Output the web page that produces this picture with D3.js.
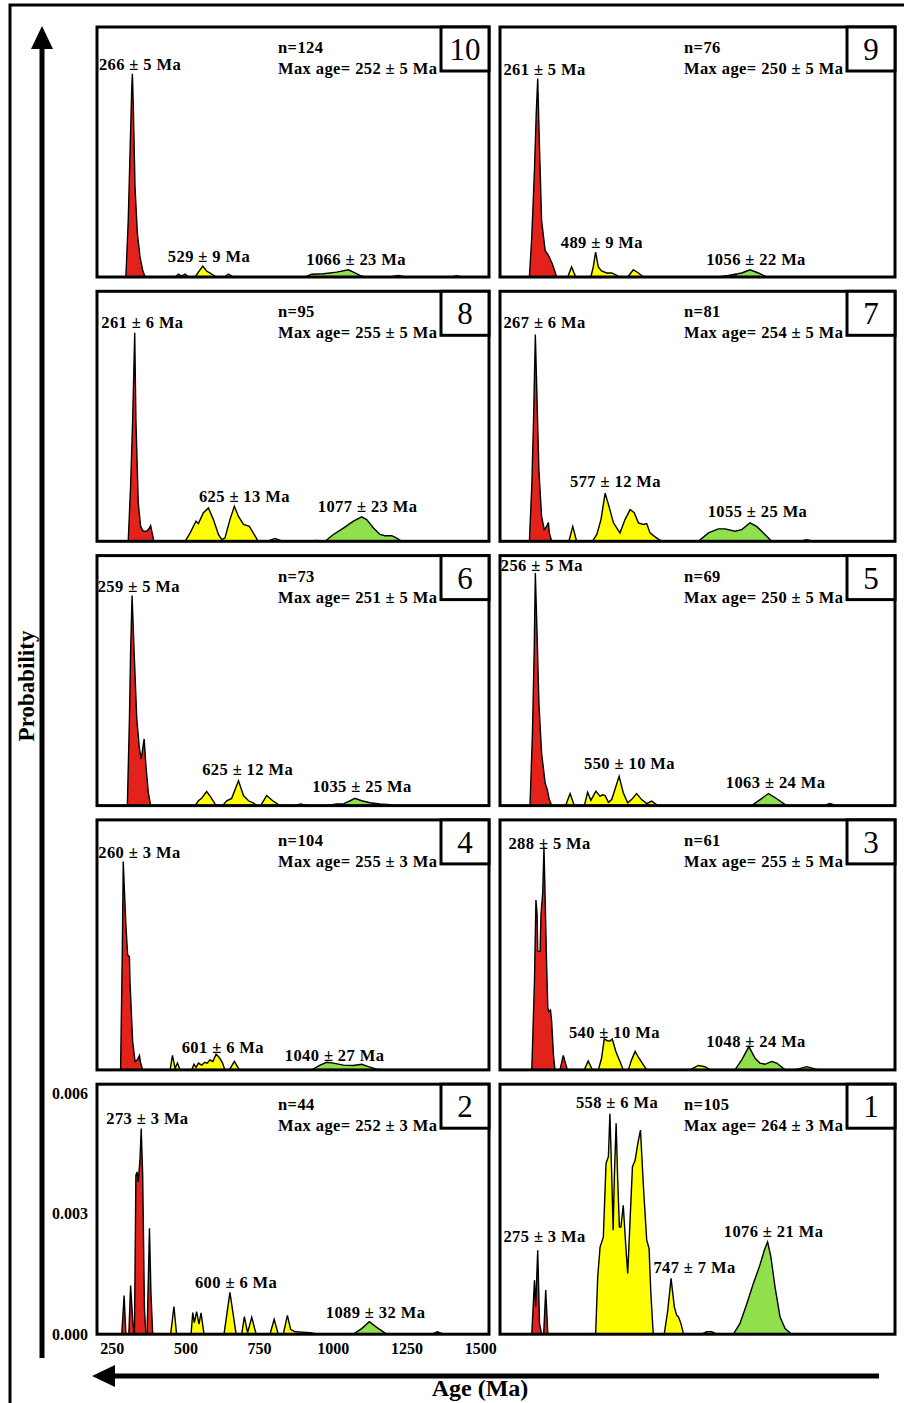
<!DOCTYPE html>
<html>
<head>
<meta charset="utf-8">
<script src="https://cdn.jsdelivr.net/npm/d3@7"></script>
<style>
  html, body { margin: 0; padding: 0; background: #fff; }
  svg { display: block; }
  text { font-family: "Liberation Serif", "Times New Roman", serif; }
</style>
</head>
<body>
<div id="chart"></div>
<script>
// panels in reading order (row by row, left then right)
const panelIds = [10, 9, 8, 7, 6, 5, 4, 3, 2, 1];
const sampleN = [124, 76, 95, 81, 73, 69, 104, 61, 44, 105];
const maxAges = ["252 ± 5", "250 ± 5", "255 ± 5", "254 ± 5", "251 ± 5", "250 ± 5", "255 ± 3", "255 ± 5", "252 ± 3", "264 ± 3"];

const ageTicks = [250, 500, 750, 1000, 1250, 1500];
const probTicks = [0, 0.003, 0.006];

// age populations: g1 Permian, g2 Neoproterozoic, g3 Mesoproterozoic, g4 minor/older
const groups = ["g1", "g2", "g3", "g4"];

// probability density curves: [group, [[age (Ma), probability], ...]]
const curve10 = [
  ["g1", [[298,0],[306,0.00141],[312,0.00307],[318,0.00473],[320,0.00506],[323,0.00432],[329,0.00224],[337,0.00108],[346,0.0005],[355,0.00017],[363,0]]],
  ["g2", [[465,0],[476,0.00007],[487,0.00002],[499,0.00007],[510,0]]],
  ["g2", [[533,0],[544,0.00012],[559,0.00027],[572,0.00015],[589,0.00007],[606,0]]],
  ["g2", [[632,0],[646,0.00007],[663,0]]],
  ["g3", [[906,0],[928,0.00007],[968,0.00008],[1013,0.00012],[1053,0.00018],[1070,0.00012],[1092,0.00004],[1109,0]]],
  ["g4", [[1194,0],[1222,0.00004],[1245,0]]],
  ["g4", [[1403,0],[1420,0.00003],[1437,0]]]
];
const curve9 = [
  ["g1", [[299,0],[307,0.001],[316,0.00266],[322,0.00407],[327,0.00494],[332,0.00349],[340,0.00141],[352,0.00066],[363,0.00054],[376,0.00033],[391,0]]],
  ["g2", [[428,0],[441,0.00025],[455,0]]],
  ["g2", [[506,0],[514,0.00025],[522,0.00062],[531,0.00025],[542,0.00015],[559,0.0001],[576,0.0001],[593,0.00004],[601,0]]],
  ["g2", [[630,0],[649,0.00018],[666,0.0001],[683,0]]],
  ["g4", [[935,0],[969,0.00004],[1000,0.00008]]],
  ["g3", [[1000,0.00008],[1014,0.0001],[1042,0.00018],[1070,0.0001],[1098,0]]]
];
const curve8 = [
  ["g1", [[306,0],[314,0.00137],[321,0.00303],[328,0.00519],[332,0.00303],[340,0.00095],[348,0.00037],[357,0.00025],[369,0.00025],[378,0.00033],[382,0.00039],[387,0.00021],[393,0]]],
  ["g2", [[499,0],[516,0.00021],[536,0.0005],[544,0.00044],[561,0.00071],[578,0.00083],[595,0.00054],[612,0.00017],[623,0.00004],[634,0.00008],[651,0.00054],[666,0.00087],[680,0.00062],[697,0.00042],[717,0.00037],[730,0.00021],[747,0]]],
  ["g2", [[776,0],[804,0.00007],[832,0]]],
  ["g4", [[917,0],[945,0.00002],[974,0]]],
  ["g3", [[974,0],[1002,0.00017],[1036,0.00033],[1070,0.0005],[1098,0.00061],[1115,0.00054],[1138,0.00033],[1160,0.00017],[1177,0.00014],[1200,0.00014],[1217,0.00008],[1234,0]]]
];
const curve7 = [
  ["g1", [[299,0],[307,0.00137],[313,0.00303],[319,0.00515],[325,0.00344],[331,0.00178],[340,0.00062],[349,0.00029],[357,0.00037],[363,0.00047],[366,0.00021],[374,0]]],
  ["g2", [[432,0],[445,0.00037],[458,0]]],
  ["g2", [[511,0],[526,0.00017],[540,0.00054],[554,0.0012],[567,0.00087],[582,0.00046],[604,0.00021],[621,0.00054],[638,0.00079],[652,0.00071],[666,0.00046],[683,0.00042],[694,0.00044],[705,0.00021],[722,0.00011],[744,0]]],
  ["g3", [[868,0],[902,0.00021],[935,0.00031],[958,0.00031],[991,0.00025],[1014,0.00029],[1042,0.00046],[1064,0.00037],[1092,0.00017],[1115,0]]],
  ["g4", [[1210,0],[1233,0.00004],[1255,0]]]
];
const curve6 = [
  ["g1", [[303,0],[310,0.00216],[314,0.00382],[319,0.00523],[326,0.00382],[335,0.00216],[344,0.00141],[350,0.00116],[355,0.00141],[360,0.00166],[366,0.001],[374,0.00033],[382,0]]],
  ["g2", [[533,0],[544,0.00012],[555,0.00018],[572,0.00035],[586,0.00021],[604,0]]],
  ["g2", [[626,0],[640,0.00012],[657,0.00018],[680,0.00062],[697,0.00025],[714,0.00012],[730,0.00007],[742,0]]],
  ["g2", [[755,0],[776,0.00025],[796,0.00012],[821,0]]],
  ["g4", [[872,0],[891,0.00004],[917,0]]],
  ["g4", [[979,0],[1013,0.00004],[1036,0.00004]]],
  ["g3", [[1036,0.00004],[1053,0.0001],[1075,0.00018],[1098,0.00012],[1126,0.00007],[1160,0.00004],[1194,0.00002],[1206,0]]]
];
const curve5 = [
  ["g1", [[301,0],[309,0.00173],[315,0.0038],[319,0.00579],[325,0.00422],[331,0.00256],[340,0.00131],[352,0.00056],[359,0.0004],[366,0.00015],[374,0]]],
  ["g2", [[421,0],[436,0.0003],[450,0]]],
  ["g2", [[484,0],[495,0.00033],[506,0.00013],[523,0.00036],[537,0.00023],[545,0.00027],[554,0.00025],[565,0.00008],[576,0.00015],[587,0.0004],[601,0.00073],[615,0.00032],[630,0.00007],[643,0.00015],[660,0.0003],[677,0.00015],[694,0.00005],[711,0.00011],[722,0.00005],[733,0]]],
  ["g3", [[1047,0],[1076,0.00015],[1104,0.0003],[1132,0.00017],[1165,0]]],
  ["g4", [[1289,0],[1311,0.00005],[1334,0]]]
];
const curve4 = [
  ["g1", [[280,0],[286,0.00303],[289,0.00519],[293,0.00448],[298,0.00361],[304,0.00286],[310,0.00282],[312,0.0022],[318,0.0012],[321,0.00071],[329,0.00021],[337,0.00025],[344,0.00036],[348,0.00017],[355,0]]],
  ["g2", [[448,0],[456,0.00036],[465,0.00004],[473,0.00017],[482,0]]],
  ["g2", [[521,0],[529,0.00014],[536,0.00006],[544,0.00017],[555,0.00012],[566,0.00019],[574,0.00017],[583,0.00025],[593,0.00021],[604,0.00039],[615,0.00031],[626,0.00017],[634,0]]],
  ["g2", [[649,0],[666,0.00021],[683,0]]],
  ["g3", [[928,0],[957,0.00012],[979,0.00019],[1002,0.00017],[1036,0.00012],[1070,0.00011],[1098,0.00014],[1121,0.00008],[1149,0.00002],[1177,0]]]
];
const curve3 = [
  ["g1", [[307,0],[316,0.0022],[321,0.00423],[325,0.00386],[327,0.00295],[335,0.00295],[338,0.00386],[344,0.00444],[348,0.00556],[352,0.00427],[357,0.00261],[361,0.00154],[365,0.00145],[370,0.00149],[374,0.0012],[380,0.00037],[385,0]]],
  ["g1", [[402,0],[413,0.00036],[427,0]]],
  ["g2", [[484,0],[497,0.00022],[511,0]]],
  ["g2", [[531,0],[542,0.00029],[551,0.00077],[563,0.00072],[570,0.00072],[578,0.00077],[590,0.00046],[604,0.00021],[615,0]]],
  ["g2", [[632,0],[643,0.00025],[655,0.00046],[668,0.00029],[694,0]]],
  ["g2", [[840,0],[868,0.00011],[890,0.00008],[907,0]]],
  ["g3", [[991,0],[1014,0.00025],[1038,0.00058],[1059,0.00029],[1075,0.00017],[1092,0.00014],[1115,0.00021],[1132,0.00017],[1160,0]]],
  ["g3", [[1193,0],[1233,0.00008],[1272,0]]]
];
const curve2 = [
  ["g1", [[284,0],[292,0.00096],[298,0]]],
  ["g1", [[308,0],[314,0.00121],[321,0.00037],[326,0]]],
  ["g1", [[327,0],[332,0.00396],[336,0.00404],[340,0.00379],[346,0.00437],[350,0.00512],[355,0.00396],[361,0.00062],[366,0]]],
  ["g1", [[370,0],[378,0.00264],[383,0.00104],[389,0]]],
  ["g2", [[450,0],[461,0.00069],[470,0]]],
  ["g2", [[519,0],[525,0.00054],[530,0.00029],[538,0.00056],[546,0.00025],[553,0.00053],[563,0]]],
  ["g2", [[631,0],[651,0.00104],[672,0]]],
  ["g2", [[691,0],[700,0.00044],[711,0.00004],[725,0.00042],[740,0]]],
  ["g2", [[787,0],[801,0.00037],[815,0]]],
  ["g2", [[832,0],[846,0.00047],[857,0.00012],[872,0.00006],[923,0.00004],[951,0]]],
  ["g3", [[1070,0],[1098,0.00014],[1124,0.00031],[1149,0.00017],[1183,0]]],
  ["g3", [[1336,0],[1355,0.00006],[1375,0]]]
];
const curve1 = [
  ["g1", [[307,0],[316,0.00134],[320,0.00068],[327,0.00209],[333,0.00027],[340,0]]],
  ["g1", [[347,0],[354,0.0011],[361,0]]],
  ["g2", [[522,0],[529,0.00143],[537,0.00217],[548,0.00242],[557,0.00425],[565,0.00442],[570,0.00549],[576,0.004],[581,0.00259],[585,0.00392],[591,0.00525],[596,0.00392],[602,0.00267],[607,0.00267],[615,0.00321],[623,0.00226],[630,0.00151],[638,0.00284],[646,0.00417],[655,0.00433],[664,0.00475],[673,0.00508],[683,0.00367],[694,0.00234],[702,0.00213],[708,0.00101],[716,0]]],
  ["g2", [[753,0],[765,0.0006],[776,0.00139],[787,0.00068],[795,0.00047],[801,0.00043],[809,0.00027],[818,0]]],
  ["g2", [[879,0],[896,0.00006],[913,0.00006],[930,0]]],
  ["g3", [[986,0],[1008,0.00027],[1031,0.00076],[1053,0.00126],[1075,0.00172],[1090,0.00209],[1101,0.0023],[1112,0.00193],[1126,0.00118],[1143,0.00043],[1160,0.00014],[1182,0]]]
];
const curves = [curve10, curve9, curve8, curve7, curve6, curve5, curve4, curve3, curve2, curve1];

// peak labels: [text, age, probability] (text centred on age, baseline at probability)
const peaks10 = [["266 ± 5 Ma", 346, 0.00515], ["529 ± 9 Ma", 580, 0.00037], ["1066 ± 23 Ma", 1079, 0.0003]];
const peaks9 = [["261 ± 5 Ma", 350, 0.00503], ["489 ± 9 Ma", 543, 0.00072], ["1056 ± 22 Ma", 1062, 0.0003]];
const peaks8 = [["261 ± 6 Ma", 354, 0.00532], ["625 ± 13 Ma", 700, 0.00098], ["1077 ± 23 Ma", 1118, 0.00073]];
const peaks7 = [["267 ± 6 Ma", 350, 0.00532], ["577 ± 12 Ma", 589, 0.00136], ["1055 ± 25 Ma", 1067, 0.00061]];
const peaks6 = [["259 ± 5 Ma", 342, 0.00532], ["625 ± 12 Ma", 711, 0.00076], ["1035 ± 25 Ma", 1099, 0.00034]];
const peaks5 = [["256 ± 5 Ma", 341, 0.00584], ["550 ± 10 Ma", 636, 0.00091], ["1063 ± 24 Ma", 1128, 0.00044]];
const peaks4 = [["260 ± 3 Ma", 344, 0.00528], ["601 ± 6 Ma", 627, 0.00042], ["1040 ± 27 Ma", 1006, 0.00022]];
const peaks3 = [["288 ± 5 Ma", 367, 0.0055], ["540 ± 10 Ma", 585, 0.00079], ["1048 ± 24 Ma", 1062, 0.00057]];
const peaks2 = [["273 ± 3 Ma", 371, 0.00523], ["600 ± 6 Ma", 672, 0.00115], ["1089 ± 32 Ma", 1145, 0.0004]];
const peaks1 = [["558 ± 6 Ma", 594, 0.00563], ["275 ± 3 Ma", 350, 0.0023], ["747 ± 7 Ma", 855, 0.00152], ["1076 ± 21 Ma", 1121, 0.00242]];
const peakLabels = [peaks10, peaks9, peaks8, peaks7, peaks6, peaks5, peaks4, peaks3, peaks2, peaks1];

const width = 904, height = 1403;
const colX = [97, 500], colW = [392, 395];
const rowTop = r => 27 + r * 264.3;
const panelH = 250;

const color = d3.scaleOrdinal().domain(groups).range(["#e3221c", "#ffff00", "#8fe04c", "#2e5a1b"]);

const svg = d3.select("#chart").append("svg")
  .attr("width", width).attr("height", height)
  .attr("viewBox", [0, 0, width, height]);

// outer frame (left and top edges)
svg.append("path")
  .attr("d", `M10,${height} L10,5 L${width},5`)
  .attr("fill", "none").attr("stroke", "#000").attr("stroke-width", 3);

// probability arrow
svg.append("line").attr("x1", 42).attr("x2", 42).attr("y1", 44).attr("y2", 1358)
  .attr("stroke", "#000").attr("stroke-width", 5);
svg.append("path").attr("d", "M42,26 L31,49 L53,49 Z").attr("fill", "#000");
svg.append("text")
  .attr("transform", "translate(34,686) rotate(-90)")
  .attr("text-anchor", "middle")
  .attr("font-size", 23).attr("font-weight", "bold")
  .text("Probability");

// age arrow
svg.append("line").attr("x1", 110).attr("x2", 879).attr("y1", 1376).attr("y2", 1376)
  .attr("stroke", "#000").attr("stroke-width", 5);
svg.append("path").attr("d", "M92,1376 L115,1365 L115,1387 Z").attr("fill", "#000");
svg.append("text")
  .attr("x", 480).attr("y", 1396)
  .attr("text-anchor", "middle")
  .attr("font-size", 24).attr("font-weight", "bold")
  .text("Age (Ma)");

const labelFont = sel => sel
  .attr("font-size", 16.5).attr("font-weight", "bold").attr("letter-spacing", 0.4);

panelIds.forEach((id, i) => {
  const row = Math.floor(i / 2), col = i % 2;
  const x0 = colX[col], w = colW[col];
  const top = rowTop(row), bottom = top + panelH;

  const x = d3.scaleLinear().domain([200, 1530]).range([x0, x0 + w]);
  const y = d3.scaleLinear().domain([0, 0.006]).range([bottom, bottom - 241]);

  const g = svg.append("g").attr("class", "panel");

  const area = d3.area().x(d => x(d[0])).y0(bottom).y1(d => y(d[1]));
  const line = d3.line().x(d => x(d[0])).y(d => y(d[1]));

  g.selectAll("path.fill").data(curves[i]).join("path")
    .attr("class", "fill")
    .attr("d", d => area(d[1]))
    .attr("fill", d => color(d[0]));
  g.selectAll("path.outline").data(curves[i]).join("path")
    .attr("class", "outline")
    .attr("d", d => line(d[1]))
    .attr("fill", "none")
    .attr("stroke", "#000")
    .attr("stroke-width", 1.4)
    .attr("stroke-linejoin", "miter");

  g.append("rect")
    .attr("x", x0).attr("y", top).attr("width", w).attr("height", panelH)
    .attr("fill", "none").attr("stroke", "#000").attr("stroke-width", 3);

  // sample number box
  g.append("rect")
    .attr("x", x0 + w - 48).attr("y", top).attr("width", 48).attr("height", 44)
    .attr("fill", "#fff").attr("stroke", "#000").attr("stroke-width", 3);
  g.append("text")
    .attr("x", x0 + w - 24).attr("y", top + 33)
    .attr("text-anchor", "middle")
    .attr("font-size", 31)
    .text(id);

  const tx = x0 + (col === 0 ? 181 : 184);
  g.append("text").attr("x", tx).attr("y", top + 26)
    .call(labelFont)
    .text(`n=${sampleN[i]}`);
  g.append("text").attr("x", tx).attr("y", top + 47)
    .call(labelFont)
    .text(`Max age= ${maxAges[i]} Ma`);

  g.selectAll("text.peak").data(peakLabels[i]).join("text")
    .attr("class", "peak")
    .attr("x", d => x(d[1])).attr("y", d => y(d[2]))
    .attr("text-anchor", "middle")
    .call(labelFont)
    .text(d => d[0]);

  // axes only on the bottom-left panel
  if (id === 2) {
    const yAxis = svg.append("g")
      .attr("transform", `translate(${x0 - 6},0)`)
      .call(d3.axisLeft(y).tickValues(probTicks).tickFormat(d3.format(".3f")).tickSize(0).tickPadding(3));
    yAxis.select(".domain").remove();
    yAxis.selectAll("text")
      .attr("font-family", "'Liberation Serif', serif")
      .attr("font-size", 16).attr("font-weight", "bold").attr("fill", "#000");

    const xAxis = svg.append("g")
      .attr("transform", `translate(0,${bottom + 5})`)
      .call(d3.axisBottom(x).tickValues(ageTicks).tickFormat(d3.format("d")).tickSize(0).tickPadding(3));
    xAxis.select(".domain").remove();
    xAxis.selectAll("text")
      .attr("font-family", "'Liberation Serif', serif")
      .attr("font-size", 16).attr("font-weight", "bold").attr("fill", "#000");
  }
});
</script>
</body>
</html>
